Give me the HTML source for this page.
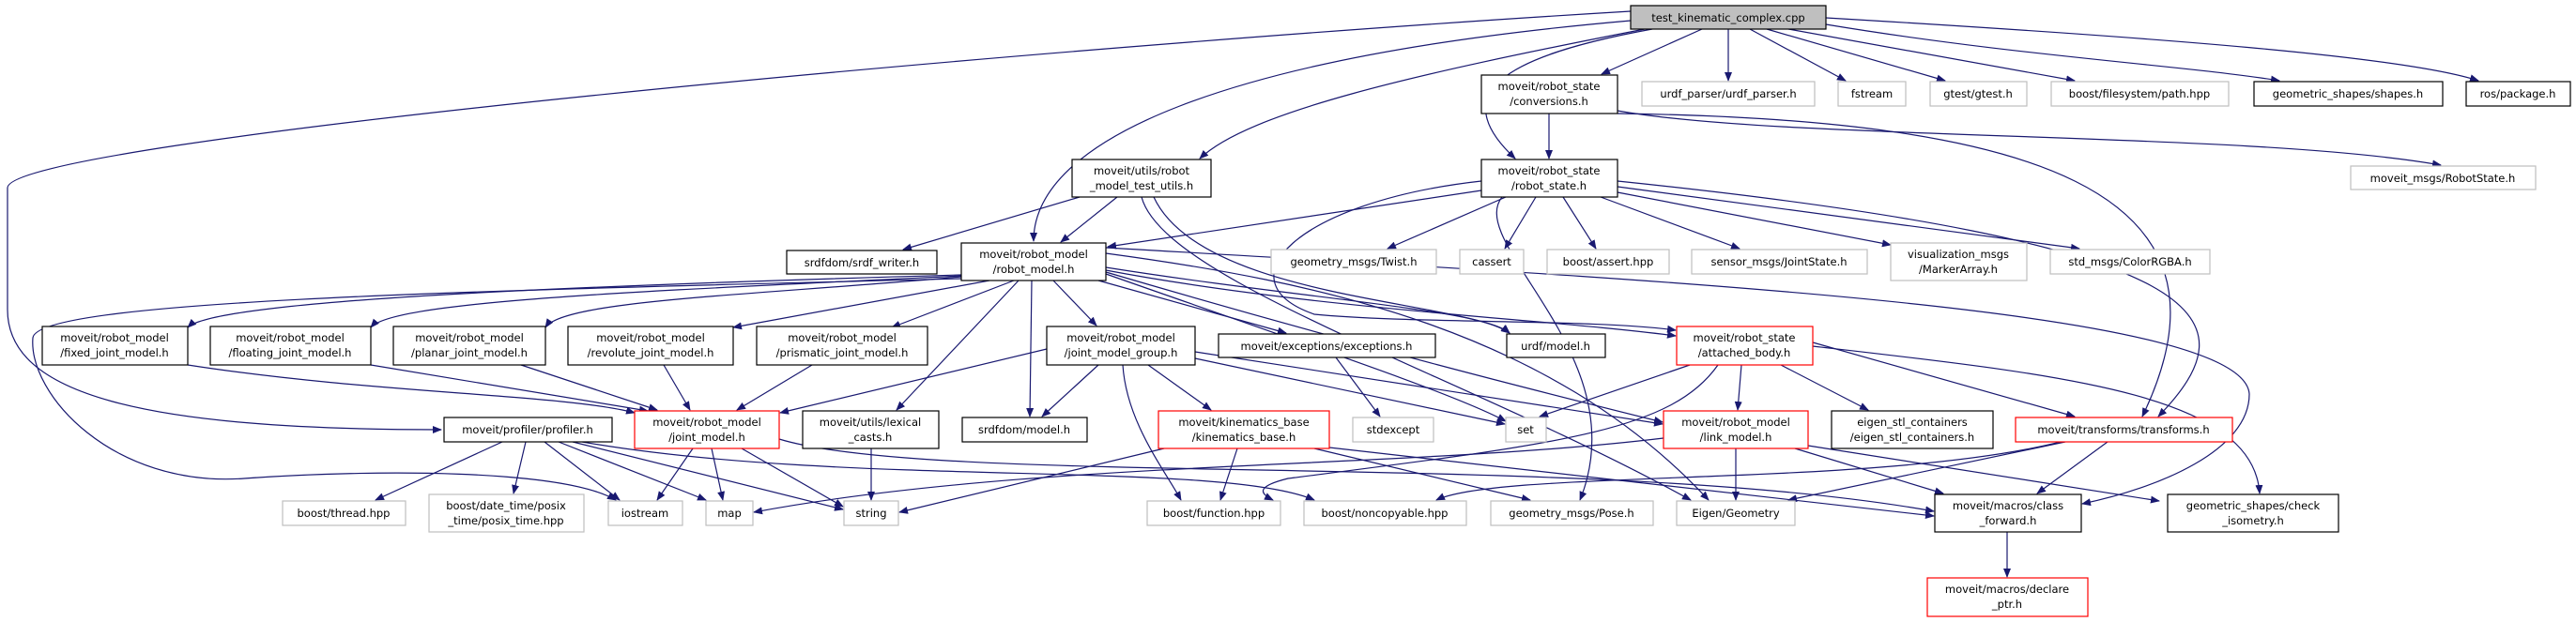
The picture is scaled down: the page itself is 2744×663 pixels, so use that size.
<!DOCTYPE html>
<html><head><meta charset="utf-8"><style>
html,body{margin:0;padding:0;background:#fff;}
svg{display:block;}
text{font-family:"DejaVu Sans","Liberation Sans",sans-serif;font-size:11.5px;fill:#000;text-anchor:middle;}
.e{fill:none;stroke:#191970;stroke-width:1.2;marker-end:url(#a);}
.b{fill:#fff;stroke:#000;stroke-width:1.2;}
.g{fill:#fff;stroke:#bfbfbf;stroke-width:1.2;}
.r{fill:#fff;stroke:#ff0000;stroke-width:1.2;}
</style></head><body>
<svg width="2744" height="663" viewBox="0 0 2744 663" xmlns="http://www.w3.org/2000/svg">
<defs><marker id="a" markerWidth="10" markerHeight="8" refX="9" refY="4" orient="auto" markerUnits="userSpaceOnUse"><path d="M0,0 L10,4 L0,8 z" fill="#191970"/></marker></defs>
<g>
<!-- root edges -->
<path class="e" d="M1737,12 C1100,50 10,150 8,200 L8,330 C8,420 150,458 470,458"/>
<path class="e" d="M1737,22 C1300,60 1101,150 1101,257"/>
<path class="e" d="M1752,31 C1500,80 1330,120 1278,169"/>
<path class="e" d="M1760,31 C1600,60 1540,100 1614,169"/>
<path class="e" d="M1813,31 L1706,79"/>
<path class="e" d="M1841,31 L1841,86"/>
<path class="e" d="M1864,31 L1966,86"/>
<path class="e" d="M1882,31 L2072,86"/>
<path class="e" d="M1905,31 L2210,86"/>
<path class="e" d="M1945,26 C2150,60 2330,70 2428,86"/>
<path class="e" d="M1945,19 C2300,40 2560,60 2640,86"/>
<!-- conversions -->
<path class="e" d="M1650,121 L1650,169"/>
<path class="e" d="M1723,118 C1900,150 2400,140 2600,176"/>
<path class="e" d="M1723,121 C2160,127 2400,200 2282,444"/>
<!-- robot_state -->
<path class="e" d="M1578,203 L1180,263"/>
<path class="e" d="M1604,210 L1478,265"/>
<path class="e" d="M1636,210 L1603,265"/>
<path class="e" d="M1665,210 L1700,265"/>
<path class="e" d="M1705,210 L1853,265"/>
<path class="e" d="M1723,205 L2014,261"/>
<path class="e" d="M1723,199 L2215,265"/>
<path class="e" d="M1723,193 C2370,260 2400,340 2299,444"/>
<path class="e" d="M1578,193 C1380,215 1300,300 1400,335 C1500,345 1700,340 1785,352"/>
<path class="e" d="M1600,210 C1560,260 1745,380 1683,533"/>
<!-- test utils -->
<path class="e" d="M1150,210 L962,266"/>
<path class="e" d="M1190,210 L1130,258"/>
<path class="e" d="M1216,210 C1240,300 1560,400 1801,533"/>
<path class="e" d="M1229,210 C1280,320 1560,320 1608,355"/>
<!-- robot_model -->
<path class="e" d="M1024,293 C600,305 230,320 200,349"/>
<path class="e" d="M1024,294 C700,310 420,320 395,349"/>
<path class="e" d="M1024,295 C800,315 600,320 581,349"/>
<path class="e" d="M1054,299 L781,349"/>
<path class="e" d="M1080,299 L950,349"/>
<path class="e" d="M1122,299 L1168,347"/>
<path class="e" d="M1099,299 L1097,444"/>
<path class="e" d="M1085,299 L955,437"/>
<path class="e" d="M1170,299 L1370,355"/>
<path class="e" d="M1178,285 C1400,320 1580,330 1608,355"/>
<path class="e" d="M1178,288 C1400,330 1650,340 1785,358"/>
<path class="e" d="M1178,292 C1400,370 1550,420 1604,449"/>
<path class="e" d="M1178,290 C1450,370 1650,420 1771,450"/>
<path class="e" d="M1178,270 C1400,300 1650,350 1820,533"/>
<path class="e" d="M1178,264 C1800,300 2390,330 2396,420 C2396,480 2300,520 2218,537"/>
<path class="e" d="M1024,297 C500,310 40,320 35,360 C30,420 120,520 260,510 C400,500 600,500 656,533"/>
<!-- joint model group -->
<path class="e" d="M1115,372 L831,440"/>
<path class="e" d="M1170,389 L1110,444"/>
<path class="e" d="M1196,389 C1200,450 1240,500 1258,533"/>
<path class="e" d="M1223,389 L1290,437"/>
<path class="e" d="M1273,382 L1603,452"/>
<path class="e" d="M1273,375 L1771,452"/>
<!-- joint types -->
<path class="e" d="M200,389 C400,420 600,420 676,440"/>
<path class="e" d="M395,389 L690,438"/>
<path class="e" d="M555,389 L700,437"/>
<path class="e" d="M707,389 L735,437"/>
<path class="e" d="M865,389 L785,437"/>
<path class="e" d="M1423,381 L1470,444"/>
<!-- joint_model -->
<path class="e" d="M738,478 L700,533"/>
<path class="e" d="M758,478 L770,533"/>
<path class="e" d="M790,478 L898,540"/>
<path class="e" d="M830,468 C1000,520 1700,480 2060,545"/>
<path class="e" d="M928,478 L928,533"/>
<!-- profiler -->
<path class="e" d="M535,471 L400,533"/>
<path class="e" d="M560,471 L547,526"/>
<path class="e" d="M580,471 L660,533"/>
<path class="e" d="M595,471 L752,533"/>
<path class="e" d="M610,471 L898,543"/>
<path class="e" d="M620,471 C900,520 1300,490 1400,533"/>
<!-- kinematics -->
<path class="e" d="M1240,478 L958,546"/>
<path class="e" d="M1318,478 L1300,533"/>
<path class="e" d="M1400,478 L1630,533"/>
<path class="e" d="M1416,477 L2060,550"/>
<!-- link model -->
<path class="e" d="M1772,467 C1500,500 1100,490 803,546"/>
<path class="e" d="M1849,478 L1849,533"/>
<path class="e" d="M1912,478 L2070,526"/>
<path class="e" d="M1926,475 L2300,534"/>
<!-- attached body -->
<path class="e" d="M1800,389 L1640,444"/>
<path class="e" d="M1855,389 L1851,437"/>
<path class="e" d="M1897,389 L1990,437"/>
<path class="e" d="M1931,365 L2210,444"/>
<path class="e" d="M1931,369 C2200,400 2400,420 2407,526"/>
<path class="e" d="M1830,389 C1780,460 1661,473 1372,510 C1340,518 1340,525 1356,533"/>
<!-- transforms -->
<path class="e" d="M2200,471 L1905,533"/>
<path class="e" d="M2245,471 L2170,526"/>
<path class="e" d="M2195,471 C2000,520 1600,500 1530,533"/>
<path class="e" d="M2138,567 L2138,615"/>
</g>
<g>
<rect x="1737" y="6" width="208" height="25" fill="#bfbfbf" stroke="#000" stroke-width="1.2"/><text x="1841" y="23">test_kinematic_complex.cpp</text>
<rect class="b" x="1578" y="80" width="145" height="41"/><text x="1650" y="96">moveit/robot_state</text><text x="1650" y="112">/conversions.h</text>
<rect class="g" x="1749" y="87" width="184" height="26"/><text x="1841" y="104">urdf_parser/urdf_parser.h</text>
<rect class="g" x="1958" y="87" width="72" height="26"/><text x="1994" y="104">fstream</text>
<rect class="g" x="2056" y="87" width="103" height="26"/><text x="2107" y="104">gtest/gtest.h</text>
<rect class="g" x="2185" y="87" width="189" height="26"/><text x="2279" y="104">boost/filesystem/path.hpp</text>
<rect class="b" x="2401" y="87" width="201" height="26"/><text x="2501" y="104">geometric_shapes/shapes.h</text>
<rect class="b" x="2627" y="87" width="111" height="26"/><text x="2682" y="104">ros/package.h</text>
<rect class="g" x="2504" y="177" width="197" height="25"/><text x="2602" y="194">moveit_msgs/RobotState.h</text>
<rect class="b" x="1578" y="170" width="145" height="40"/><text x="1650" y="186">moveit/robot_state</text><text x="1650" y="202">/robot_state.h</text>
<rect class="g" x="1354" y="266" width="176" height="26"/><text x="1442" y="283">geometry_msgs/Twist.h</text>
<rect class="g" x="1555" y="266" width="68" height="26"/><text x="1589" y="283">cassert</text>
<rect class="g" x="1648" y="266" width="130" height="26"/><text x="1713" y="283">boost/assert.hpp</text>
<rect class="g" x="1802" y="266" width="187" height="26"/><text x="1895" y="283">sensor_msgs/JointState.h</text>
<rect class="g" x="2014" y="259" width="145" height="40"/><text x="2086" y="275">visualization_msgs</text><text x="2086" y="291">/MarkerArray.h</text>
<rect class="g" x="2184" y="266" width="170" height="26"/><text x="2269" y="283">std_msgs/ColorRGBA.h</text>
<rect class="b" x="1142" y="170" width="148" height="40"/><text x="1216" y="186">moveit/utils/robot</text><text x="1216" y="202">_model_test_utils.h</text>
<rect class="b" x="838" y="267" width="160" height="25"/><text x="918" y="284">srdfdom/srdf_writer.h</text>
<rect class="b" x="1024" y="259" width="154" height="40"/><text x="1101" y="275">moveit/robot_model</text><text x="1101" y="291">/robot_model.h</text>
<rect class="b" x="45" y="348" width="155" height="41"/><text x="122" y="364">moveit/robot_model</text><text x="122" y="380">/fixed_joint_model.h</text>
<rect class="b" x="224" y="348" width="171" height="41"/><text x="309" y="364">moveit/robot_model</text><text x="309" y="380">/floating_joint_model.h</text>
<rect class="b" x="419" y="348" width="162" height="41"/><text x="500" y="364">moveit/robot_model</text><text x="500" y="380">/planar_joint_model.h</text>
<rect class="b" x="605" y="348" width="176" height="41"/><text x="693" y="364">moveit/robot_model</text><text x="693" y="380">/revolute_joint_model.h</text>
<rect class="b" x="806" y="348" width="182" height="41"/><text x="897" y="364">moveit/robot_model</text><text x="897" y="380">/prismatic_joint_model.h</text>
<rect class="b" x="1115" y="348" width="158" height="41"/><text x="1194" y="364">moveit/robot_model</text><text x="1194" y="380">/joint_model_group.h</text>
<rect class="b" x="1298" y="356" width="231" height="25"/><text x="1413" y="373">moveit/exceptions/exceptions.h</text>
<rect class="b" x="1605" y="356" width="105" height="25"/><text x="1657" y="373">urdf/model.h</text>
<rect class="r" x="1786" y="348" width="145" height="41"/><text x="1858" y="364">moveit/robot_state</text><text x="1858" y="380">/attached_body.h</text>
<rect class="b" x="473" y="445" width="179" height="26"/><text x="562" y="462">moveit/profiler/profiler.h</text>
<rect class="r" x="676" y="438" width="154" height="40"/><text x="753" y="454">moveit/robot_model</text><text x="753" y="470">/joint_model.h</text>
<rect class="b" x="855" y="438" width="145" height="40"/><text x="927" y="454">moveit/utils/lexical</text><text x="927" y="470">_casts.h</text>
<rect class="b" x="1025" y="445" width="133" height="26"/><text x="1091" y="462">srdfdom/model.h</text>
<rect class="r" x="1234" y="438" width="182" height="40"/><text x="1325" y="454">moveit/kinematics_base</text><text x="1325" y="470">/kinematics_base.h</text>
<rect class="g" x="1441" y="445" width="86" height="26"/><text x="1484" y="462">stdexcept</text>
<rect class="g" x="1604" y="445" width="43" height="26"/><text x="1625" y="462">set</text>
<rect class="r" x="1772" y="438" width="154" height="40"/><text x="1849" y="454">moveit/robot_model</text><text x="1849" y="470">/link_model.h</text>
<rect class="b" x="1951" y="438" width="172" height="40"/><text x="2037" y="454">eigen_stl_containers</text><text x="2037" y="470">/eigen_stl_containers.h</text>
<rect class="r" x="2147" y="445" width="231" height="26"/><text x="2262" y="462">moveit/transforms/transforms.h</text>
<rect class="g" x="301" y="534" width="131" height="26"/><text x="366" y="551">boost/thread.hpp</text>
<rect class="g" x="457" y="527" width="165" height="40"/><text x="539" y="543">boost/date_time/posix</text><text x="539" y="559">_time/posix_time.hpp</text>
<rect class="g" x="648" y="534" width="79" height="26"/><text x="687" y="551">iostream</text>
<rect class="g" x="752" y="534" width="50" height="26"/><text x="777" y="551">map</text>
<rect class="g" x="899" y="534" width="58" height="26"/><text x="928" y="551">string</text>
<rect class="g" x="1222" y="534" width="142" height="26"/><text x="1293" y="551">boost/function.hpp</text>
<rect class="g" x="1389" y="534" width="173" height="26"/><text x="1475" y="551">boost/noncopyable.hpp</text>
<rect class="g" x="1588" y="534" width="173" height="26"/><text x="1674" y="551">geometry_msgs/Pose.h</text>
<rect class="g" x="1786" y="534" width="126" height="26"/><text x="1849" y="551">Eigen/Geometry</text>
<rect class="b" x="2061" y="527" width="156" height="40"/><text x="2139" y="543">moveit/macros/class</text><text x="2139" y="559">_forward.h</text>
<rect class="b" x="2309" y="527" width="182" height="40"/><text x="2400" y="543">geometric_shapes/check</text><text x="2400" y="559">_isometry.h</text>
<rect class="r" x="2053" y="616" width="171" height="41"/><text x="2138" y="632">moveit/macros/declare</text><text x="2138" y="648">_ptr.h</text>
</g>
</svg>
</body></html>
